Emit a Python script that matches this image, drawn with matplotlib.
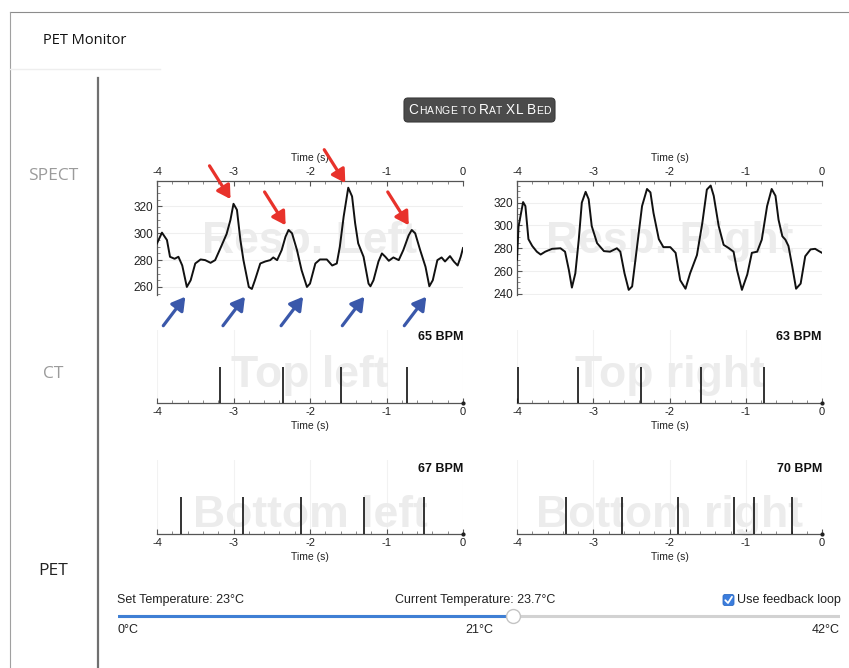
import matplotlib
matplotlib.use('Agg')
import matplotlib.pyplot as plt
from matplotlib.ticker import MultipleLocator
from matplotlib.patches import FancyBboxPatch

plt.rcParams['font.family'] = ['Liberation Sans', 'DejaVu Sans']
plt.rcParams['axes.unicode_minus'] = False

W, H, DPI = 849, 668, 100

# ---------------- data ----------------
resp_left_t = [-4.0, -3.935, -3.87, -3.83, -3.77, -3.72, -3.67, -3.61, -3.56, -3.50, -3.43, -3.37,
               -3.30, -3.24, -3.17, -3.09, -3.04, -3.00, -2.955, -2.91, -2.87, -2.80, -2.76, -2.72,
               -2.65, -2.585, -2.52, -2.48, -2.43, -2.37, -2.32, -2.28, -2.235, -2.17, -2.11, -2.04,
               -2.00, -1.93, -1.87, -1.78, -1.71, -1.65, -1.61, -1.56, -1.50, -1.45, -1.41, -1.37,
               -1.30, -1.235, -1.21, -1.17, -1.105, -1.06, -1.015, -0.97, -0.91, -0.84, -0.78, -0.71,
               -0.67, -0.625, -0.56, -0.49, -0.44, -0.395, -0.335, -0.28, -0.235, -0.17, -0.12,
               -0.07, -0.03, 0.0]
resp_left_v = [292.5, 300.5, 295, 282.5, 281, 282.5, 276, 260, 265, 277.5, 280.5, 280,
               278, 280, 289, 299.5, 310, 322, 317.5, 295, 280, 260, 258.5, 265,
               277.5, 279, 280, 282, 280, 287.5, 297.5, 302.5, 300, 287.5, 272.5, 260,
               262.5, 277.5, 280.5, 280.5, 276, 277.5, 290, 312.5, 334, 327.5, 307.5, 292.5,
               282.5, 262.5, 260.5, 265, 279, 285, 282.5, 279.5, 282, 280, 287.5, 298.5,
               302.5, 300, 287.5, 275, 260.5, 265, 280, 282, 279, 283, 279,
               276, 282.5, 289]

resp_right_t = [-4.0, -3.98, -3.92, -3.89, -3.85, -3.80, -3.74, -3.69, -3.63, -3.54, -3.43, -3.37,
                -3.32, -3.28, -3.235, -3.19, -3.15, -3.10, -3.06, -3.02, -2.95, -2.86, -2.78, -2.69,
                -2.645, -2.59, -2.535, -2.49, -2.43, -2.36, -2.295, -2.25, -2.21, -2.14, -2.08, -1.99,
                -1.92, -1.86, -1.79, -1.73, -1.64, -1.57, -1.51, -1.46, -1.42, -1.355, -1.29, -1.22,
                -1.16, -1.115, -1.05, -0.98, -0.92, -0.85, -0.79, -0.72, -0.66, -0.61, -0.57, -0.52,
                -0.48, -0.44, -0.39, -0.34, -0.28, -0.22, -0.15, -0.09, -0.04, 0.0]
resp_right_v = [270, 299, 320.5, 317, 288, 282, 277, 274.5, 277, 279.5, 280, 277,
                261, 245.5, 258, 287.5, 320, 329.5, 323, 299.5, 284.5, 277.5, 277, 280,
                277, 258, 243.5, 246.5, 279, 317, 332, 329, 311, 288, 281, 281,
                276, 252, 244.5, 258, 274, 302, 331.5, 335, 326, 299.5, 283, 280,
                277, 261, 243.5, 257, 276, 277, 287.5, 317, 332, 326, 305, 290.5,
                287.5, 282, 264, 244.5, 249, 273, 279, 279.5, 277.5, 276]

red_peak_t = [-3.00, -2.28, -1.50, -0.67]
red_peak_v = [322, 302.5, 334, 302.5]
blue_trough_t = [-3.63, -2.85, -2.09, -1.29, -0.48]

spikes_top_left = [-3.18, -2.355, -1.59, -0.735]
spikes_top_right = [-3.99, -3.205, -2.38, -1.59, -0.76]
spikes_bottom_left = [-3.68, -2.87, -2.12, -1.30, -0.505]
spikes_bottom_right = [-3.36, -2.62, -1.89, -1.15, -0.89, -0.40]
bpm_values = [65, 63, 67, 70]
panel_names = ["Top left", "Top right", "Bottom left", "Bottom right"]
resp_names = ["Resp. Left", "Resp. Right"]
modalities = ["SPECT", "CT", "PET"]
modality_colors = ["#9b9b9b", "#9b9b9b", "#222222"]
time_ticks = [-4, -3, -2, -1, 0]
resp_left_yticks = [260, 280, 300, 320]
resp_right_yticks = [240, 260, 280, 300, 320]
temp_min, temp_max, temp_set, temp_current = 0, 42, 23, 23.7
temp_tick_values = [0, 21, 42]
button_label = "Change to Rat XL Bed"

# ---------------- figure ----------------
fig = plt.figure(figsize=(W / DPI, H / DPI), dpi=DPI)
fig.patch.set_facecolor('white')


def px_axes(x0, y0, x1, y1, **kw):
    return fig.add_axes([x0 / W, 1 - y1 / H, (x1 - x0) / W, (y1 - y0) / H], **kw)


bg = px_axes(0, 0, W, H, zorder=-10)
bg.set_xlim(0, W)
bg.set_ylim(H, 0)
bg.axis('off')

# window chrome
bg.plot([10, W], [12, 12], color='#8c8c8c', lw=0.8)
bg.plot([10, 10], [12, H], color='#a0a0a0', lw=0.8)
bg.plot([10, 160], [69, 69], color='#eeeeee', lw=1.0)
bg.plot([98, 98], [78, H], color='#707070', lw=1.6)
bg.text(43, 40, "PET Monitor", fontsize=10.5, family=['Open Sans', 'DejaVu Sans'],
        ha='left', va='center', color='#111111')

for name, yy, col in zip(modalities, [176, 374, 571], modality_colors):
    bg.text(53, yy, name, fontsize=12.5, family=['Open Sans', 'DejaVu Sans'],
            ha='center', va='center', color=col)

# button with small caps text
bg.add_patch(FancyBboxPatch((404, 98), 151, 24, boxstyle='round,pad=0,rounding_size=4',
                            fc='#4b4b4b', ec='#3a3a3a', lw=0.8))
renderer = fig.canvas.get_renderer()
big, small = 9.8, 7.5
pieces = []
for ch in button_label:
    if ch == ' ':
        pieces.append((' ', small))
    elif ch.isupper():
        pieces.append((ch, big))
    else:
        pieces.append((ch.upper(), small))
widths = []
for ch, sz in pieces:
    if ch == ' ':
        widths.append(0.32 * sz * DPI / 72)
    else:
        t = bg.text(0, 0, ch, fontsize=sz)
        widths.append(t.get_window_extent(renderer).width + 0.3)
        t.remove()
total = sum(widths)
xx = 480 - total / 2
for (ch, sz), wdt in zip(pieces, widths):
    if ch != ' ':
        bg.text(xx, 114.5, ch, fontsize=sz, color='white', ha='left', va='baseline')
    xx += wdt


def style_resp(ax, t, v, yticks, ylim, name):
    ax.plot(t, v, color='#111111', lw=1.4, zorder=3)
    ax.set_xlim(-4, 0)
    ax.set_ylim(*ylim)
    ax.xaxis.tick_top()
    ax.xaxis.set_label_position('top')
    ax.set_xlabel('Time (s)', fontsize=7.5, labelpad=4, color='#222')
    ax.set_xticks(time_ticks)
    ax.xaxis.set_minor_locator(MultipleLocator(0.2))
    ax.set_yticks(yticks)
    ax.yaxis.set_minor_locator(MultipleLocator(5))
    for s in ['right', 'bottom']:
        ax.spines[s].set_visible(False)
    for s in ['top', 'left']:
        ax.spines[s].set_color('#555555')
        ax.spines[s].set_linewidth(0.9)
    ax.tick_params(which='major', direction='in', length=3.5, labelsize=8, colors='#555555',
                   labelcolor='#222222', pad=3)
    ax.tick_params(axis='y', which='major', labelsize=8.5)
    ax.tick_params(which='minor', direction='in', length=2, colors='#777777')
    ax.yaxis.grid(True, color='#efefef', lw=0.8)
    ax.set_axisbelow(True)
    ax.text(0.5, 0.37, name, transform=ax.transAxes, ha='center', va='baseline',
            fontsize=32, fontweight='bold', color='#ececec', zorder=1)


ax_rl = px_axes(157, 181, 463, 295)
style_resp(ax_rl, resp_left_t, resp_left_v, resp_left_yticks, (254, 339), resp_names[0])
ax_rr = px_axes(517, 181, 822, 295)
style_resp(ax_rr, resp_right_t, resp_right_v, resp_right_yticks, (239, 339), resp_names[1])


def style_spikes(ax, spikes, bpm, name, bpm_y, wm_y):
    ax.vlines(spikes, 0, 1, color='#111111', lw=1.2, zorder=3)
    ax.plot([0], [0], marker='o', ms=2, color='#222222', zorder=3, clip_on=False)
    ax.set_xlim(-4, 0)
    ax.set_ylim(0, 2)
    ax.set_yticks([])
    ax.set_xticks(time_ticks)
    ax.xaxis.set_minor_locator(MultipleLocator(0.2))
    for s in ['left', 'top', 'right']:
        ax.spines[s].set_visible(False)
    ax.spines['bottom'].set_color('#555555')
    ax.spines['bottom'].set_linewidth(0.9)
    ax.tick_params(which='major', direction='in', length=3.5, labelsize=8, colors='#555555',
                   labelcolor='#222222', pad=3)
    ax.tick_params(which='minor', direction='in', length=2, colors='#777777')
    ax.xaxis.grid(True, color='#f2f2f2', lw=0.8)
    ax.set_axisbelow(True)
    ax.set_xlabel('Time (s)', fontsize=7.5, labelpad=3, color='#222')
    ax.text(1.0, bpm_y, f"{bpm} BPM", transform=ax.transAxes, ha='right', va='center',
            fontsize=9, fontweight='bold', color='#111111')
    ax.text(0.5, wm_y, name, transform=ax.transAxes, ha='center', va='baseline',
            fontsize=32, fontweight='bold', color='#ececec', zorder=1)


spike_sets = [spikes_top_left, spikes_top_right, spikes_bottom_left, spikes_bottom_right]
boxes = [(157, 330, 463, 403), (517, 330, 822, 403), (157, 460, 463, 534), (517, 460, 822, 534)]
for i, (sp, box) in enumerate(zip(spike_sets, boxes)):
    ax = px_axes(*box)
    if i < 2:
        style_spikes(ax, sp, bpm_values[i], panel_names[i], 0.90, 0.223)
    else:
        style_spikes(ax, sp, bpm_values[i], panel_names[i], 0.88, 0.095)

# arrows (overlay)
top = px_axes(0, 0, W, H, zorder=20)
top.set_xlim(0, W)
top.set_ylim(H, 0)
top.axis('off')
top.patch.set_alpha(0)
for t, v in zip(red_peak_t, red_peak_v):
    top.annotate('', xy=(t, v), xycoords=ax_rl.transData,
                 xytext=(-24, 38), textcoords='offset pixels',
                 arrowprops=dict(arrowstyle='-|>,head_length=0.65,head_width=0.38',
                                 color='#e8322b', lw=2.3, mutation_scale=12,
                                 shrinkA=0, shrinkB=4),
                 annotation_clip=False)
blend = ax_rl.get_xaxis_transform()
for t in blue_trough_t:
    top.annotate('', xy=(t, -0.015), xycoords=blend,
                 xytext=(-22, -29), textcoords='offset pixels',
                 arrowprops=dict(arrowstyle='-|>,head_length=0.65,head_width=0.38',
                                 color='#3a58aa', lw=2.3, mutation_scale=12,
                                 shrinkA=0, shrinkB=0),
                 annotation_clip=False)

# temperature slider
ui_font = ['Liberation Sans Narrow', 'Liberation Sans', 'DejaVu Sans']
bg.text(117, 600, f"Set Temperature: {temp_set}°C", fontsize=9, family=ui_font,
        ha='left', va='center', color='#222222')
bg.text(395, 600, f"Current Temperature: {temp_current}°C", fontsize=9, family=ui_font,
        ha='left', va='center', color='#222222')
bg.add_patch(FancyBboxPatch((723, 594.5), 11, 11, boxstyle='round,pad=0,rounding_size=2',
                            fc='#3b7ddd', ec='#2f6cc4', lw=0.6))
bg.plot([725.3, 728, 732], [600.2, 603, 596.8], color='white', lw=1.3, solid_capstyle='round')
bg.text(737, 600, "Use feedback loop", fontsize=9, family=ui_font,
        ha='left', va='center', color='#222222')

ax_s = px_axes(118, 606, 840, 626)
ax_s.set_xlim(temp_min, temp_max)
ax_s.set_ylim(-1, 1)
ax_s.axis('off')
ax_s.plot([temp_min, temp_max], [0, 0], color='#d2d2d2', lw=2.2, solid_capstyle='round')
ax_s.plot([temp_min, temp_set], [0, 0], color='#3f7fd4', lw=2.2, solid_capstyle='round')
ax_s.plot([temp_set], [0], marker='o', ms=10, mfc='white', mec='#c4c4c4', mew=1, zorder=5,
          clip_on=False)
for val, ha in zip(temp_tick_values, ['left', 'center', 'right']):
    ax_s.text(val, -1.4, f"{val}°C", fontsize=9, family=ui_font, ha=ha, va='center',
              color='#222222', clip_on=False)

fig.savefig('out.png', dpi=DPI, facecolor='white')
